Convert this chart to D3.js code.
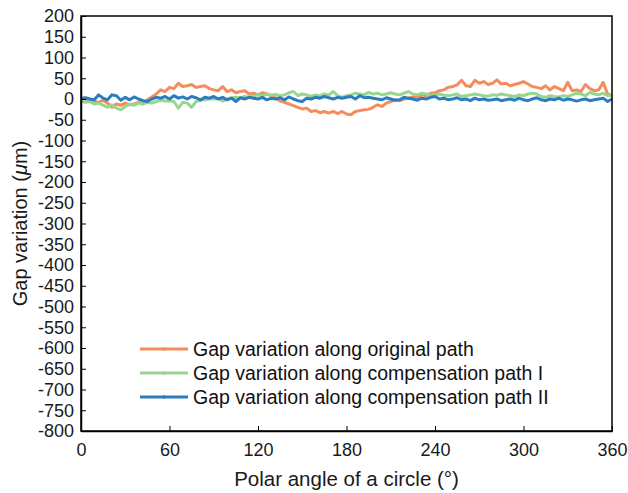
<!DOCTYPE html>
<html>
<head>
<meta charset="utf-8">
<script src="https://cdn.jsdelivr.net/npm/d3@7"></script>
<style>
  body { margin: 0; background: #fff; }
  svg { font-family: "Liberation Sans", Arial, sans-serif; }
</style>
</head>
<body>
<div id="chart"></div>
<script>
// polar angle, every 3 degrees
const angles = d3.range(0, 361, 3);

const originalPath = [
  2, 0, -3, -5, -8, -3, -10, -20, -12, -15, -10, -14, -12, -8, -12, -2, 5, 12, 22, 18,
  28, 25, 38, 30, 32, 35, 28, 30, 32, 25, 22, 20, 30, 18, 22, 15, 18, 20, 12, 14,
  10, 15, 12, 8, 2, -5, -8, -12, -16, -20, -24, -22, -30, -28, -33, -30, -34, -30, -35, -30,
  -36, -38, -30, -28, -26, -25, -20, -14, -18, -10, -6, -2, -4, 0, 2, 5, 3, 10, 8, 14,
  15, 20, 22, 28, 30, 34, 45, 32, 30, 45, 38, 42, 35, 38, 46, 36, 38, 32, 35, 38,
  42, 36, 30, 28, 25, 32, 22, 30, 25, 20, 40, 20, 22, 18, 35, 25, 20, 22, 40, 12, 8
];

const compensationI = [
  -5, -8, -6, -12, -10, -15, -20, -14, -22, -26, -18, -12, -15, -10, -12, -8, -10, -6, -3, -5,
  -4, -6, -22, -8, -10, -20, -6, -3, -2, 0, 0, 2, -5, 0, 3, 4, 2, 6, 4, 7,
  10, 8, 12, 9, 11, 8, 10, 15, 18, 8, 12, 10, 6, 10, 8, 12, 10, 18, 8, 4,
  8, 10, 14, 12, 10, 16, 12, 14, 10, 12, 15, 12, 10, 14, 18, 12, 10, 14, 12, 8,
  10, 12, 9, 8, 10, 12, 6, 8, 10, 12, 10, 8, 7, 10, 9, 12, 10, 8, 6, 10,
  8, 12, 14, 12, 6, 4, 8, 6, 5, 8, 6, 10, 14, 12, 8, 16, 12, 10, 14, 8, 10
];

const compensationII = [
  2, 3, 0, -2, 10, 2, -2, 10, 8, -3, 4, -2, 5, 0, -4, -6, 0, 4, 2, 6,
  0, 8, 2, 5, 0, 6, 3, -2, 4, 2, 6, 0, 4, -2, 2, -6, 3, 0, 4, 2,
  0, 4, -2, 2, 0, 3, -2, 5, 0, -4, -6, 2, 0, 4, 2, 6, 3, 0, 4, 2,
  4, 6, 0, 8, 3, 4, 2, 0, -2, 3, 0, -3, -2, 4, 2, 0, -3, 2, 0, 4,
  6, 0, 2, -2, 0, 3, -2, 0, -4, 2, -2, 0, -3, -2, 0, -4, -2, 0, -3, 2,
  -2, -4, 0, 3, -2, -4, 0, -2, 2, -3, 0, -2, -5, -2, 0, -4, -2, 0, 2, -6, 0
];

const seriesNames = [
  "Gap variation along original path",
  "Gap variation along compensation path I",
  "Gap variation along compensation path II"
];
const seriesColors = ["#f68b5c", "#98d58e", "#2c7dbf"];
const seriesValues = [originalPath, compensationI, compensationII];

const xTicks = [0, 60, 120, 180, 240, 300, 360];
const yTicks = d3.range(-800, 201, 50);

const W = 628, H = 493;
const margin = { top: 16, right: 16, bottom: 62, left: 81 };
const width = W - margin.left - margin.right;
const height = H - margin.top - margin.bottom;

const svg = d3.select("#chart")
  .append("svg")
  .attr("width", W)
  .attr("height", H);

const g = svg.append("g")
  .attr("transform", `translate(${margin.left},${margin.top})`);

const x = d3.scaleLinear().domain([0, 360]).range([0, width]);
const y = d3.scaleLinear().domain([-800, 200]).range([height, 0]);

// data lines
const line = d3.line()
  .x((d) => x(d[0]))
  .y((d) => y(d[1]));

seriesValues.forEach((vals, i) => {
  const pts = angles.map((a, j) => [a, vals[j]]);
  g.append("path")
    .datum(pts)
    .attr("fill", "none")
    .attr("stroke", seriesColors[i])
    .attr("stroke-width", 3)
    .attr("stroke-linejoin", "round")
    .attr("d", line);
});

// box
g.append("rect")
  .attr("x", 0)
  .attr("y", 0)
  .attr("width", width)
  .attr("height", height)
  .attr("fill", "none")
  .attr("stroke", "#000")
  .attr("stroke-width", 1.5);

// axes, ticks pointing inward, plain hyphen for negatives
const plain = (d) => String(d);

const xAxis = g.append("g")
  .attr("transform", `translate(0,${height})`)
  .call(d3.axisBottom(x).tickValues(xTicks).tickFormat(plain)
    .tickSizeInner(-5).tickSizeOuter(0).tickPadding(12));

const yAxis = g.append("g")
  .call(d3.axisLeft(y).tickValues(yTicks).tickFormat(plain)
    .tickSizeInner(-5).tickSizeOuter(0).tickPadding(7));

[xAxis, yAxis].forEach((ax) => {
  ax.select(".domain").attr("stroke-width", 1.5);
  ax.selectAll(".tick line").attr("stroke-width", 1);
  ax.selectAll(".tick text")
    .attr("font-size", 18)
    .attr("fill", "#1a1a1a")
    .attr("font-family", "'Liberation Sans', Arial, sans-serif");
});

// axis titles
svg.append("text")
  .attr("x", margin.left + width / 2)
  .attr("y", 486)
  .attr("text-anchor", "middle")
  .attr("font-size", 20.5)
  .attr("fill", "#1a1a1a")
  .text("Polar angle of a circle (\u00b0)");

const yTitle = svg.append("text")
  .attr("transform", `translate(27,${margin.top + height / 2}) rotate(-90)`)
  .attr("text-anchor", "middle")
  .attr("font-size", 20)
  .attr("fill", "#1a1a1a");
yTitle.append("tspan").text("Gap variation (");
yTitle.append("tspan").attr("font-style", "italic").text("\u03bc");
yTitle.append("tspan").text("m)");

// legend
const legend = svg.append("g").attr("transform", "translate(140,349)");
seriesNames.forEach((name, i) => {
  const row = legend.append("g").attr("transform", `translate(0,${i * 24})`);
  row.append("line")
    .attr("x1", 0).attr("x2", 48)
    .attr("y1", 0).attr("y2", 0)
    .attr("stroke", seriesColors[i])
    .attr("stroke-width", 3);
  row.append("circle")
    .attr("cx", 24).attr("cy", 0).attr("r", 1.8)
    .attr("fill", seriesColors[i]);
  row.append("text")
    .attr("x", 53)
    .attr("y", 6.5)
    .attr("font-size", 19.5)
    .attr("fill", "#111")
    .text(name);
});
</script>
</body>
</html>
